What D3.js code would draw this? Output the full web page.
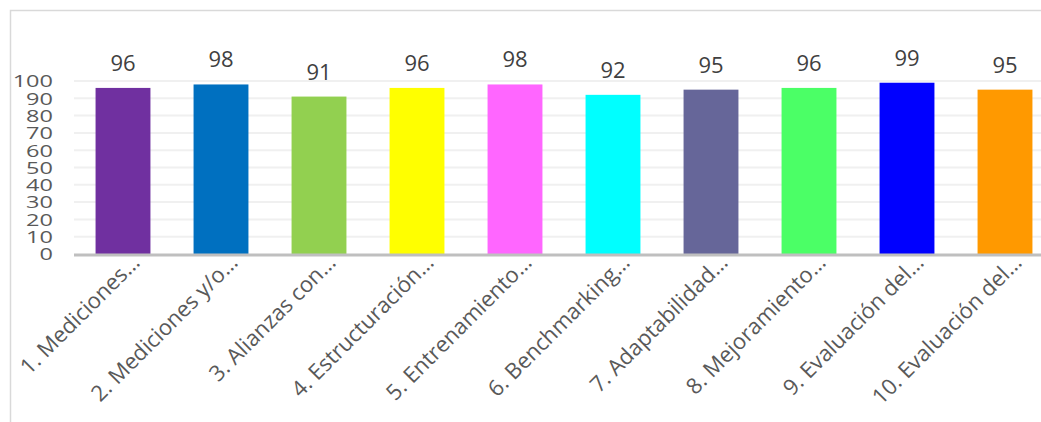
<!DOCTYPE html>
<html lang="es">
<head>
<meta charset="UTF-8">
<title>Chart</title>
<script src="https://d3js.org/d3.v7.min.js"></script>
<style>
  body { margin: 0; background: #fff; }
  svg { display: block; font-family: "Open Sans", sans-serif; }
</style>
</head>
<body>
<div id="chart"></div>
<script>
// data ------------------------------------------------------------
const categories = [
    "1. Mediciones…", "2. Mediciones y/o…", "3. Alianzas con…", "4. Estructuración…",
    "5. Entrenamiento…", "6. Benchmarking…", "7. Adaptabilidad…", "8. Mejoramiento…",
    "9. Evaluación del…", "10. Evaluación del…"
];
const values = [96, 98, 91, 96, 98, 92, 95, 96, 99, 95];
const barColors = ["#7030A0", "#0070C0", "#92D050", "#FFFF00", "#FF66FF",
                   "#00FFFF", "#666699", "#4BFF66", "#0000FF", "#FF9900"];
const yTicks = [0, 10, 20, 30, 40, 50, 60, 70, 80, 90, 100];

// svg -------------------------------------------------------------
const width = 1041, height = 422;
const svg = d3.select("#chart").append("svg")
    .attr("width", width)
    .attr("height", height);

// chart frame (cropped on right/bottom)
svg.append("path")
    .attr("d", `M10.5,${height} L10.5,10.5 L${width},10.5`)
    .attr("fill", "none")
    .attr("stroke", "#d9d9d9")
    .attr("stroke-width", 1.5);

const plot = {left: 74, right: 1054, top: 81, bottom: 254};

const x = d3.scaleBand().domain(categories).range([plot.left, plot.right]).paddingInner(0.44).paddingOuter(0.22);
const y = d3.scaleLinear().domain([0, 100]).range([plot.bottom, plot.top]);

// gridlines
svg.append("g")
    .selectAll("line")
    .data(yTicks.slice(1))
    .join("line")
    .attr("x1", plot.left)
    .attr("x2", width)
    .attr("y1", d => y(d))
    .attr("y2", d => y(d))
    .attr("stroke", "#f0f0f0")
    .attr("stroke-width", 2);

// y axis labels (squeezed vertically like the original)
const yAxis = svg.append("g")
    .attr("transform", `translate(${plot.left - 21},0)`)
    .call(d3.axisLeft(y).tickValues(yTicks).tickSize(0).tickPadding(0));
yAxis.select(".domain").remove();
yAxis.selectAll("text")
    .attr("x", 0)
    .attr("dy", "0.36em")
    .attr("transform", "scale(1.12,0.78)")
    .style("font-family", "Open Sans")
    .style("font-size", "21px")
    .attr("fill", "#595959");

// bars
svg.append("g")
    .selectAll("rect")
    .data(values)
    .join("rect")
    .attr("x", (d, i) => x(categories[i]))
    .attr("y", d => y(d))
    .attr("width", x.bandwidth())
    .attr("height", d => y(0) - y(d))
    .attr("fill", (d, i) => barColors[i]);

// data labels
svg.append("g")
    .selectAll("text")
    .data(values)
    .join("text")
    .attr("x", (d, i) => x(categories[i]) + x.bandwidth() / 2)
    .attr("y", d => y(d) - 17)
    .attr("text-anchor", "middle")
    .style("font-size", "22px")
    .attr("fill", "#404040")
    .text(d => d);

// x axis line
svg.append("line")
    .attr("x1", plot.left)
    .attr("x2", width)
    .attr("y1", plot.bottom + 1)
    .attr("y2", plot.bottom + 1)
    .attr("stroke", "#bfbfbf")
    .attr("stroke-width", 3);

// category labels
svg.append("g")
    .selectAll("text")
    .data(categories)
    .join("text")
    .attr("transform", d => `translate(${x(d) + x.bandwidth() / 2 + 18},264) rotate(-45)`)
    .attr("text-anchor", "end")
    .style("font-size", "22px")
    .attr("fill", "#595959")
    .text(d => d);
</script>
</body>
</html>
